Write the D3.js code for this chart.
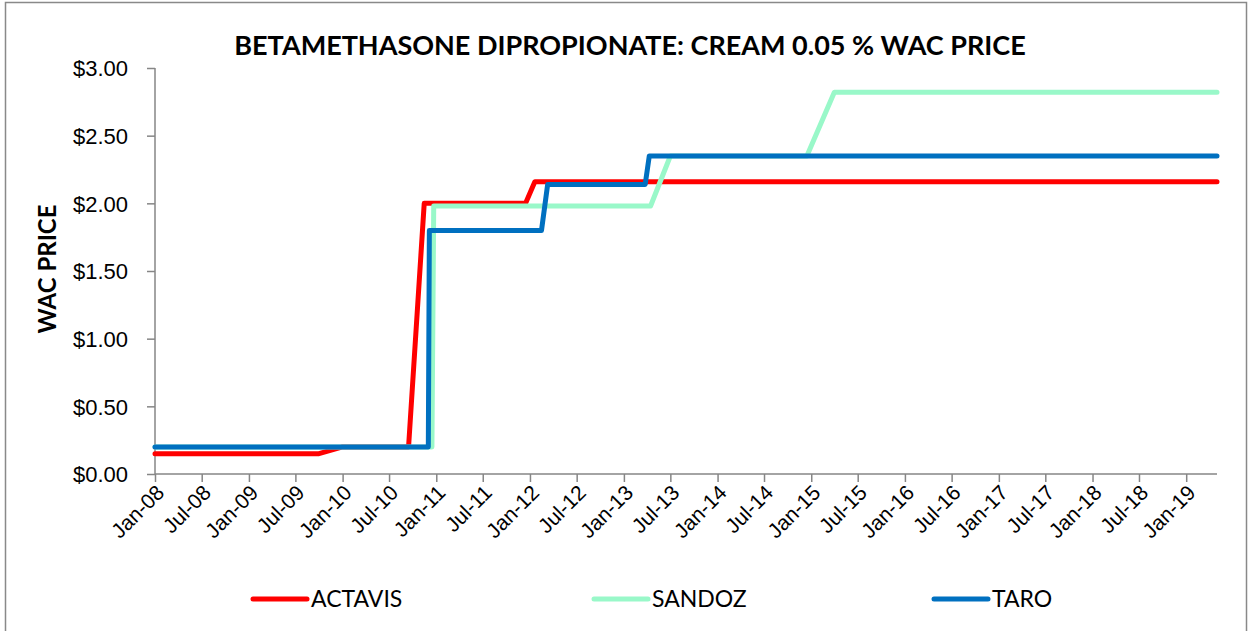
<!DOCTYPE html>
<html>
<head>
<meta charset="utf-8">
<script src="https://cdn.jsdelivr.net/npm/d3@7"></script>
<style>
  body { margin: 0; background: #fff; }
  svg { display: block; font-family: Lato, "Open Sans", sans-serif; }
</style>
</head>
<body>
<svg id="svg1" width="1251" height="631"></svg>
<script>
// price points (date of change, WAC price)
var actavisDates  = ['2008-01-01', '2009-10-01', '2010-01-01', '2010-09-15', '2010-11-15', '2011-12-15', '2012-01-20', '2019-05-01'];
var actavisValues = [0.15, 0.15, 0.20, 0.20, 2.00, 2.00, 2.16, 2.16];

var sandozDates  = ['2008-01-01', '2010-12-15', '2010-12-22', '2013-04-15', '2013-07-01', '2014-12-15', '2015-04-01', '2019-05-01'];
var sandozValues = [0.20, 0.20, 1.98, 1.98, 2.35, 2.35, 2.82, 2.82];

var taroDates  = ['2008-01-01', '2010-12-01', '2010-12-05', '2012-02-15', '2012-03-10', '2013-03-25', '2013-04-10', '2019-05-01'];
var taroValues = [0.20, 0.20, 1.80, 1.80, 2.14, 2.14, 2.35, 2.35];

var seriesNames  = ['ACTAVIS', 'SANDOZ', 'TARO'];
var seriesColors = ['#ff0000', '#99f8c9', '#0070c0'];
var yTicks = [0, 0.5, 1, 1.5, 2, 2.5, 3];

var parse = d3.timeParse('%Y-%m-%d');
function toPoints(dates, values) {
    return dates.map(function(d, i) { return {date: parse(d), value: values[i]}; });
}
var series = [
    toPoints(actavisDates, actavisValues),
    toPoints(sandozDates, sandozValues),
    toPoints(taroDates, taroValues)
];

var svg = d3.select('#svg1');

// chart frame
svg.append('rect')
    .attr('x', 5.5).attr('y', 2.5)
    .attr('width', 1241).attr('height', 700)
    .attr('fill', 'none')
    .attr('stroke', '#898989')
    .attr('stroke-width', 1.5);

var x = d3.scaleTime()
    .domain([parse('2008-01-01'), parse('2019-05-01')])
    .range([155, 1217]);

var y = d3.scaleLinear()
    .domain([0, 3])
    .range([474, 68]);

// y axis
var yAxis = svg.append('g')
    .attr('transform', 'translate(155,0)')
    .call(d3.axisLeft(y).tickValues(yTicks).tickSize(8).tickPadding(19)
        .tickFormat(function(d) { return '$' + d.toFixed(2); }));
yAxis.selectAll('path, line').attr('stroke', '#868686').attr('stroke-width', 1.5);
yAxis.select('.domain').attr('d', 'M0,68V474');
yAxis.selectAll('text')
    .attr('fill', '#000')
    .style('font-size', '22px')
    .attr('dy', '0.36em');

// x axis
var xAxis = svg.append('g')
    .attr('transform', 'translate(0,474)')
    .call(d3.axisBottom(x).ticks(d3.timeMonth.every(6)).tickSize(8)
        .tickFormat(d3.timeFormat('%b-%y')));
xAxis.selectAll('path, line').attr('stroke', '#868686').attr('stroke-width', 1.5);
xAxis.select('.domain').attr('d', 'M155,0H1217');
xAxis.selectAll('text')
    .attr('fill', '#000')
    .style('font-size', '21px')
    .attr('text-anchor', 'end')
    .attr('dy', null)
    .attr('y', 0)
    .attr('transform', 'translate(10,20) rotate(-45)');

// lines
var line = d3.line()
    .x(function(d) { return x(d.date); })
    .y(function(d) { return y(d.value); });

svg.selectAll('path.series')
    .data(series)
    .enter()
    .append('path')
    .attr('class', 'series')
    .attr('d', line)
    .attr('fill', 'none')
    .attr('stroke', function(d, i) { return seriesColors[i]; })
    .attr('stroke-width', 5)
    .attr('stroke-linejoin', 'round')
    .attr('stroke-linecap', 'round');

// title
svg.append('text')
    .text('BETAMETHASONE DIPROPIONATE: CREAM 0.05 % WAC PRICE')
    .attr('x', 630).attr('y', 55)
    .attr('text-anchor', 'middle')
    .style('font-weight', 'bold')
    .style('font-size', '27px');

// y title
svg.append('text')
    .text('WAC PRICE')
    .attr('transform', 'translate(56,269) rotate(-90)')
    .attr('text-anchor', 'middle')
    .style('font-weight', 'bold')
    .style('font-size', '24px');

// legend
var legendX = [253, 594, 934];
var legend = svg.selectAll('g.legend')
    .data(seriesNames)
    .enter()
    .append('g')
    .attr('class', 'legend')
    .attr('transform', function(d, i) { return 'translate(' + legendX[i] + ',599)'; });
legend.append('line')
    .attr('x1', 0).attr('x2', 54)
    .attr('stroke', function(d, i) { return seriesColors[i]; })
    .attr('stroke-width', 5)
    .attr('stroke-linecap', 'round');
legend.append('text')
    .text(function(d) { return d; })
    .attr('x', 58)
    .attr('dy', '0.36em')
    .style('font-size', '23px');
</script>
</body>
</html>
